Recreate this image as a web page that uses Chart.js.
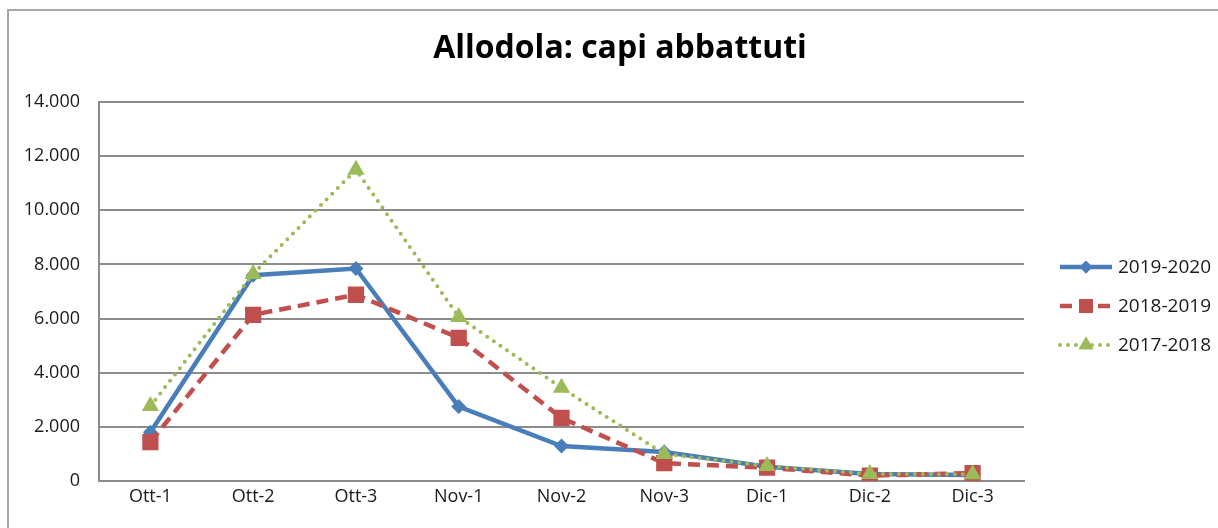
<!DOCTYPE html>
<html>
<head>
<meta charset="utf-8">
<script src="https://cdn.jsdelivr.net/npm/chart.js@4.4.1/dist/chart.umd.min.js"></script>
<style>
  html, body { margin: 0; padding: 0; background: #fff; }
  .frame {
    position: absolute; left: 7px; top: 9px; width: 1240px; height: 560px;
    border: 2px solid #a6a6a6; box-sizing: border-box;
  }
  .wrap { position: absolute; left: 0; top: 0; width: 1218px; height: 528px; }
</style>
</head>
<body>
<div class="frame"></div>
<div class="wrap"><canvas id="chart" width="1218" height="528"></canvas></div>
<script>
/* ========== Data ========== */
const categories = ['Ott-1', 'Ott-2', 'Ott-3', 'Nov-1', 'Nov-2', 'Nov-3', 'Dic-1', 'Dic-2', 'Dic-3'];
const s2019_2020 = [1800, 7600, 7850, 2750, 1290, 1070, 530, 260, 220];
const s2018_2019 = [1440, 6140, 6880, 5290, 2330, 660, 490, 200, 290];
const s2017_2018 = [2770, 7650, 11500, 6060, 3440, 1000, 550, 260, 250];
const yTicks = [0, 2000, 4000, 6000, 8000, 10000, 12000, 14000];
const chartTitle = 'Allodola: capi abbattuti';

const FONT = '"Open Sans", sans-serif';

const seriesStyle = [
  { label: '2019-2020', data: s2019_2020, color: '#4a7ebb', dash: [], width: 4.5, cap: 'butt', point: 'rectRot', radius: 7.5 },
  { label: '2018-2019', data: s2018_2019, color: '#c0504d', dash: [12, 7], width: 4.5, cap: 'butt', point: 'rect', radius: 11.5 },
  { label: '2017-2018', data: s2017_2018, color: '#9bbb59', dash: [0, 8], width: 4, cap: 'round', point: 'triangle', radius: 10 }
];

/* ========== Title + legend drawn by hand ========== */
const decorations = {
  id: 'decorations',
  afterDraw(chart) {
    const ctx = chart.ctx;
    ctx.save();
    ctx.fillStyle = '#000';
    ctx.font = 'bold 32px ' + FONT;
    ctx.textAlign = 'center';
    ctx.textBaseline = 'middle';
    ctx.fillText(chartTitle, 620, 49);
    ctx.restore();

    const ys = [267, 306, 345];
    seriesStyle.forEach((s, i) => {
      const y = ys[i];
      ctx.save();
      ctx.strokeStyle = s.color;
      ctx.lineWidth = s.width;
      ctx.lineCap = s.cap;
      ctx.setLineDash(s.dash);
      ctx.beginPath();
      ctx.moveTo(1060, y);
      ctx.lineTo(1112, y);
      ctx.stroke();
      ctx.setLineDash([]);
      ctx.fillStyle = s.color;
      Chart.helpers.drawPoint(ctx, { pointStyle: s.point, radius: s.radius * 0.85, borderWidth: 0 }, 1086, y);
      ctx.fill();
      ctx.fillStyle = '#1a1a1a';
      ctx.font = '19px ' + FONT;
      ctx.textBaseline = 'middle';
      ctx.fillText(s.label, 1118, y + 1);
      ctx.restore();
    });
  }
};

const ctx = document.getElementById('chart');
new Chart(ctx, {
  type: 'line',
  data: {
    labels: categories,
    datasets: seriesStyle.map(s => ({
      label: s.label,
      data: s.data,
      borderColor: s.color,
      backgroundColor: s.color,
      borderWidth: s.width,
      borderDash: s.dash,
      borderCapStyle: s.cap,
      pointStyle: s.point,
      pointRadius: s.radius,
      pointBorderWidth: 0,
      tension: 0,
      fill: false
    })).reverse()
  },
  options: {
    responsive: false,
    animation: false,
    layout: { padding: { left: 0, right: 194, top: 102, bottom: 0 } },
    plugins: {
      legend: { display: false },
      tooltip: { enabled: false },
      title: { display: false }
    },
    scales: {
      x: {
        offset: true,
        grid: { display: false, drawTicks: false },
        border: { display: true, color: '#8c8c8c', width: 2 },
        ticks: { color: '#1a1a1a', font: { family: FONT, size: 18 }, padding: 5, maxRotation: 0 },
        afterFit(scale) { scale.height = 47; }
      },
      y: {
        min: 0,
        max: 14000,
        afterBuildTicks(scale) { scale.ticks = yTicks.map(v => ({ value: v })); },
        grid: { color: '#8c8c8c', lineWidth: 2, drawTicks: false },
        border: { display: true, color: '#8c8c8c', width: 2 },
        ticks: {
          color: '#1a1a1a',
          font: { family: FONT, size: 18 },
          padding: 19,
          callback: v => v.toLocaleString('it-IT')
        },
        afterFit(scale) { scale.width = 99; }
      }
    }
  },
  plugins: [decorations]
});
</script>
</body>
</html>
